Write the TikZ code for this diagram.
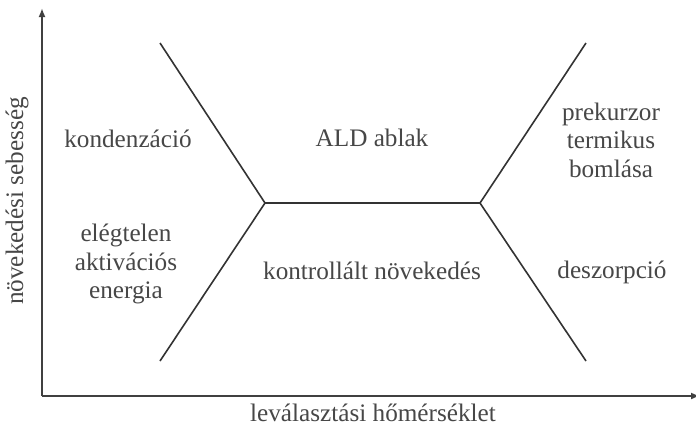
\documentclass[tikz,border=0pt]{standalone}
\usepackage{fontspec}
\setmainfont{Liberation Serif}
\usetikzlibrary{arrows.meta}
\begin{document}
\begin{tikzpicture}[x=0.5pt,y=-0.5pt,
  axis/.style={line width=1.1pt,draw=black!75,-{Latex[length=4.5pt,width=3.5pt]}},
  bound/.style={line width=0.8pt,draw=black!80},
  lbl/.style={text=black!72,font=\fontsize{12.6}{14.2}\selectfont,align=center,inner sep=0pt}]
\useasboundingbox (0,0) rectangle (696,430);
\fill[white] (0,0) rectangle (696,430);
% axes
\coordinate (O) at (42,396);
\coordinate (ytop) at (42,8);
\coordinate (xend) at (700,396);
\draw[axis] (O) -- (ytop);
\draw[axis] (O) -- (xend);
% boundary lines
\coordinate (LT) at (160,43);
\coordinate (LV) at (265,203);
\coordinate (LB) at (160,361);
\coordinate (RT) at (586,43);
\coordinate (RV) at (480,203);
\coordinate (RB) at (586,361);
\draw[bound] (LT) -- (LV) -- (LB);
\draw[bound] (RT) -- (RV) -- (RB);
\draw[bound] (LV) -- (RV);
% labels
\node[lbl] (kond) at (128,139) {kondenzáció};
\node[lbl] (ald) at (372,138) {ALD ablak};
\node[lbl] (prek) at (611,140) {prekurzor\\termikus\\bomlása};
\node[lbl] (eleg) at (126,264) {elégtelen\\aktivációs\\energia};
\node[lbl] (kontr) at (372,271) {kontrollált növekedés};
\node[lbl] (desz) at (612,272) {deszorpció};
\node[lbl] (xlab) at (373,413) {leválasztási hőmérséklet};
\node[lbl,rotate=90] (ylab) at (17,201) {növekedési sebesség};
\end{tikzpicture}
\end{document}
